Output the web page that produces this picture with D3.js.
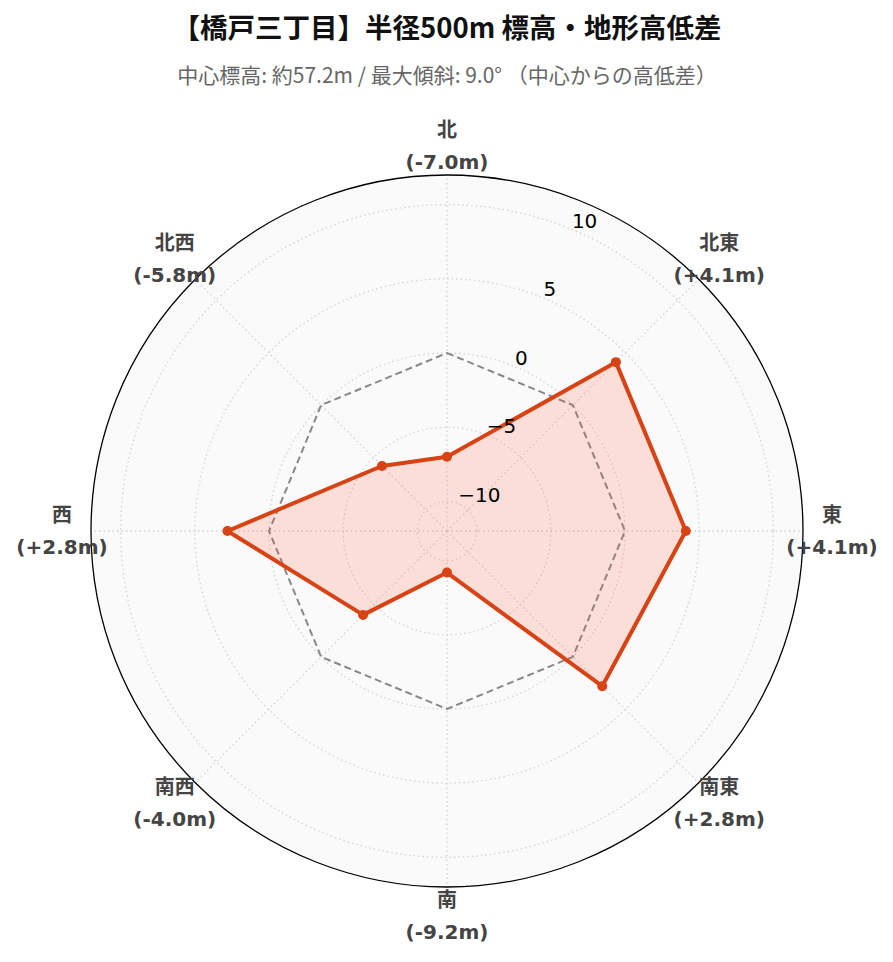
<!DOCTYPE html>
<html>
<head>
<meta charset="utf-8">
<script src="https://cdn.jsdelivr.net/npm/d3@7"></script>
<style>
  body { margin: 0; background: #fff; }
  svg text { font-family: "DejaVu Sans", "Noto Sans CJK JP", sans-serif; }
</style>
</head>
<body>
<div id="chart"></div>
<script>
// data
const directions = ["北", "北東", "東", "南東", "南", "南西", "西", "北西"];
const elevDiff = [-7.0, 4.1, 4.1, 2.8, -9.2, -4.0, 2.8, -5.8];
const radialTicks = [-10, -5, 0, 5, 10];
const radialDomain = [-12, 12];
const titleText = "【橋戸三丁目】半径500m 標高・地形高低差";
const subtitleText = "中心標高: 約57.2m / 最大傾斜: 9.0° （中心からの高低差）";

const width = 893, height = 962;
const cx = 447, cy = 531, outerR = 356;

const svg = d3.select("#chart").append("svg")
    .attr("width", width)
    .attr("height", height);

// title + subtitle
svg.append("text")
    .attr("x", cx).attr("y", 38)
    .attr("text-anchor", "middle")
    .style("font-family", "'Noto Sans CJK JP', sans-serif")
    .style("font-size", "27.5px")
    .style("font-weight", "bold")
    .attr("fill", "#111")
    .text(titleText);

svg.append("text")
    .attr("x", cx).attr("y", 83)
    .attr("text-anchor", "middle")
    .style("font-family", "'Noto Sans CJK JP', sans-serif")
    .style("font-size", "21px")
    .attr("fill", "#666")
    .text(subtitleText);

const g = svg.append("g")
    .attr("transform", `translate(${cx}, ${cy})`);

const r = d3.scaleLinear().domain(radialDomain).range([0, outerR]);
const angle = d3.scaleLinear().domain([0, directions.length]).range([0, 2 * Math.PI]);

// polar position helper (clockwise from north)
const pos = (a, rad) => [rad * Math.sin(a), -rad * Math.cos(a)];

// background disc
g.append("circle")
    .attr("r", outerR)
    .attr("fill", "#fafafa");

// radial grid circles
g.selectAll(".rgrid")
    .data(radialTicks)
    .enter().append("circle")
    .attr("class", "rgrid")
    .attr("r", d => r(d))
    .attr("fill", "none")
    .attr("stroke", "#d3d3d3")
    .attr("stroke-width", 1.3)
    .attr("stroke-dasharray", "1.5,3");

// angular grid lines
g.selectAll(".agrid")
    .data(directions)
    .enter().append("line")
    .attr("class", "agrid")
    .attr("x1", 0).attr("y1", 0)
    .attr("x2", (d, i) => pos(angle(i), outerR)[0])
    .attr("y2", (d, i) => pos(angle(i), outerR)[1])
    .attr("stroke", "#d3d3d3")
    .attr("stroke-width", 1.3)
    .attr("stroke-dasharray", "1.5,3");

// outer border
g.append("circle")
    .attr("r", outerR)
    .attr("fill", "none")
    .attr("stroke", "#000")
    .attr("stroke-width", 1.3);

const radialLine = d3.lineRadial()
    .angle((d, i) => angle(i))
    .radius(d => r(d))
    .curve(d3.curveLinearClosed);

// zero reference polygon
g.append("path")
    .attr("d", radialLine(directions.map(() => 0)))
    .attr("fill", "none")
    .attr("stroke", "#888")
    .attr("stroke-width", 2)
    .attr("stroke-dasharray", "7,4");

// data polygon
g.append("path")
    .attr("d", radialLine(elevDiff))
    .attr("fill", "rgba(255, 80, 40, 0.16)")
    .attr("stroke", "#d84315")
    .attr("stroke-width", 4)
    .attr("stroke-linejoin", "round");

g.selectAll(".pt")
    .data(elevDiff)
    .enter().append("circle")
    .attr("class", "pt")
    .attr("cx", (d, i) => pos(angle(i), r(d))[0])
    .attr("cy", (d, i) => pos(angle(i), r(d))[1])
    .attr("r", 5)
    .attr("fill", "#d84315");

// radial tick labels along 22.5deg
const tickAngle = Math.PI / 8;
g.selectAll(".rtick")
    .data(radialTicks)
    .enter().append("text")
    .attr("class", "rtick")
    .attr("x", d => pos(tickAngle, r(d))[0])
    .attr("y", d => pos(tickAngle, r(d))[1] - 2)
    .attr("text-anchor", "start")
    .style("font-size", "20px")
    .attr("fill", "#000")
    .text(d => d3.format("d")(d));

// direction labels
const fmt = d => (d >= 0 ? "+" : "") + d.toFixed(1) + "m";
const labelR = 385;
const lab = g.selectAll(".dlab")
    .data(directions)
    .enter().append("g")
    .attr("class", "dlab")
    .attr("transform", (d, i) => `translate(${pos(angle(i), labelR)})`);

lab.append("text")
    .attr("y", -16)
    .attr("dy", "0.35em")
    .attr("text-anchor", "middle")
    .style("font-size", "20px")
    .style("font-weight", "bold")
    .attr("fill", "#444")
    .text(d => d);

lab.append("text")
    .attr("y", 16)
    .attr("dy", "0.35em")
    .attr("text-anchor", "middle")
    .style("font-size", "20px")
    .style("font-weight", "bold")
    .attr("fill", "#444")
    .text((d, i) => `(${fmt(elevDiff[i])})`);
</script>
</body>
</html>
